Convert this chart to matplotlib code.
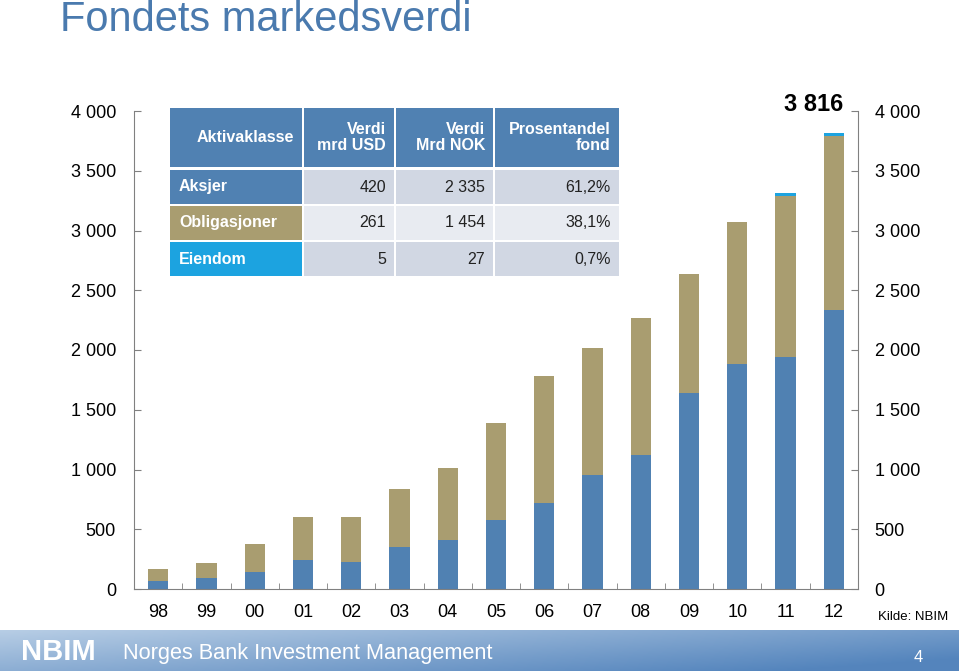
import matplotlib
matplotlib.use("Agg")
import matplotlib.pyplot as plt
import numpy as np
from matplotlib.patches import Rectangle

plt.rcParams['font.family'] = ['Liberation Sans', 'DejaVu Sans']

# data (mrd NOK)
years = ['98', '99', '00', '01', '02', '03', '04', '05', '06', '07', '08', '09', '10', '11', '12']
aksjer = [67, 92, 142, 243, 226, 351, 410, 578, 720, 954, 1122, 1640, 1883, 1942, 2335]
obligasjoner = [100, 126, 235, 360, 377, 486, 603, 811, 1063, 1063, 1146, 997, 1189, 1347, 1454]
eiendom = [0, 0, 0, 0, 0, 0, 0, 0, 0, 0, 0, 0, 0, 25, 27]
total_label = '3 816'

# table
tab_header = ['Aktivaklasse', 'Verdi\nmrd USD', 'Verdi\nMrd NOK', 'Prosentandel\nfond']
tab_rows = [['Aksjer', '420', '2 335', '61,2%'],
            ['Obligasjoner', '261', '1 454', '38,1%'],
            ['Eiendom', '5', '27', '0,7%']]

c_eq = '#5081B2'
c_bond = '#A99D70'
c_re = '#1CA3E0'
c_title = '#4A7AAE'

W, H = 959, 671
fig = plt.figure(figsize=(W / 100, H / 100), dpi=100)

def fx(px):
    return px / W

def fy(py):
    return 1 - py / H

ax = fig.add_axes([fx(134), fy(589), fx(858) - fx(134), fy(111) - fy(589)])
x = np.arange(len(years))
w = 0.42
ax.bar(x, aksjer, w, color=c_eq)
ax.bar(x, obligasjoner, w, bottom=aksjer, color=c_bond)
ax.bar(x, eiendom, w, bottom=np.array(aksjer) + np.array(obligasjoner), color=c_re)
ax.set_xlim(-0.5, len(years) - 0.5)
ax.set_ylim(0, 4000)
ax.text(x[-1] + 0.2, 4058, total_label, ha='right', va='center', fontsize=17, fontweight='bold',
        clip_on=False)

yt = np.arange(0, 4001, 500)
ylab = ['{:,}'.format(v).replace(',', ' ') for v in yt]
ax.set_yticks(yt)
ax.set_yticklabels(ylab, fontsize=13)
ax.tick_params(axis='y', direction='in', length=5, color='#808080', pad=13)
ax.set_xticks(x)
ax.set_xticklabels(years, fontsize=13)
ax.tick_params(axis='x', length=0, pad=11)
ax.set_xticks(np.arange(0.5, len(years) - 1, 1), minor=True)
ax.tick_params(axis='x', which='minor', direction='in', length=4, color='#808080')
ax.spines['top'].set_visible(False)
for s in ['left', 'right', 'bottom']:
    ax.spines[s].set_color('#808080')

ax2 = ax.twinx()
ax2.set_ylim(0, 4000)
ax2.set_yticks(yt)
ax2.set_yticklabels(ylab, fontsize=13)
ax2.tick_params(axis='y', direction='in', length=5, color='#808080', pad=12)
for s in ['left', 'right', 'bottom', 'top']:
    ax2.spines[s].set_visible(False)

# title
fig.text(fx(60), fy(20), 'Fondets markedsverdi', fontsize=30, color=c_title, va='center', ha='left')

# table drawn with patches
cols = [(170, 302), (304, 394), (396, 493), (495, 619)]
rows = [(108, 167), (170, 204), (206, 240), (242, 276)]
first_col = [c_eq, c_bond, c_re]
row_fill = ['#D1D7E3', '#E8EBF1', '#D1D7E3']
for ri, (y0, y1) in enumerate(rows):
    for ci, (x0, x1) in enumerate(cols):
        if ri == 0:
            fc = c_eq
            txt = tab_header[ci]
            col = 'white'
            wt = 'bold'
        else:
            fc = first_col[ri - 1] if ci == 0 else row_fill[ri - 1]
            txt = tab_rows[ri - 1][ci]
            col = 'white' if ci == 0 else '#222222'
            wt = 'bold' if ci == 0 else 'normal'
        fig.patches.append(Rectangle((fx(x0), fy(y1)), fx(x1 - x0), (y1 - y0) / H,
                                     transform=fig.transFigure, facecolor=fc, edgecolor='none'))
        if ri > 0 and ci == 0:
            fig.text(fx(x0 + 9), fy((y0 + y1) / 2), txt, color=col, fontweight=wt,
                     fontsize=11.5, ha='left', va='center')
        else:
            fig.text(fx(x1 - 8), fy((y0 + y1) / 2), txt, color=col, fontweight=wt,
                     fontsize=11.5, ha='right', va='center', multialignment='right', linespacing=1.1)

fig.text(fx(878), fy(617), 'Kilde: NBIM', fontsize=9.5, ha='left', va='center')

# footer band
fax = fig.add_axes([0, 0, 1, fy(630)])
gx = np.linspace(0, 1, 200)
gy = np.linspace(0, 1, 40)
GX, GY = np.meshgrid(gx, gy)
t = np.clip(0.2 + 0.55 * GX + 0.35 * GY, 0, 1)
c0 = np.array([0.82, 0.88, 0.94])
c1 = np.array([0.33, 0.52, 0.74])
img = c0[None, None, :] * (1 - t[..., None]) + c1[None, None, :] * t[..., None]
fax.imshow(img, aspect='auto', extent=[0, 1, 0, 1], origin='upper')
fax.set_axis_off()
fax.set_xlim(0, 1)
fax.set_ylim(0, 1)
fig.text(fx(21), fy(652), 'NBIM', fontsize=21, fontweight='bold', color='white', va='center',
         ha='left')
fig.text(fx(123), fy(654), 'Norges Bank Investment Management', fontsize=15.7, color='white', va='center',
         ha='left')
fig.text(fx(918), fy(657), '4', fontsize=12, color='white', va='center', ha='center')

fig.savefig('out.png', dpi=100)
